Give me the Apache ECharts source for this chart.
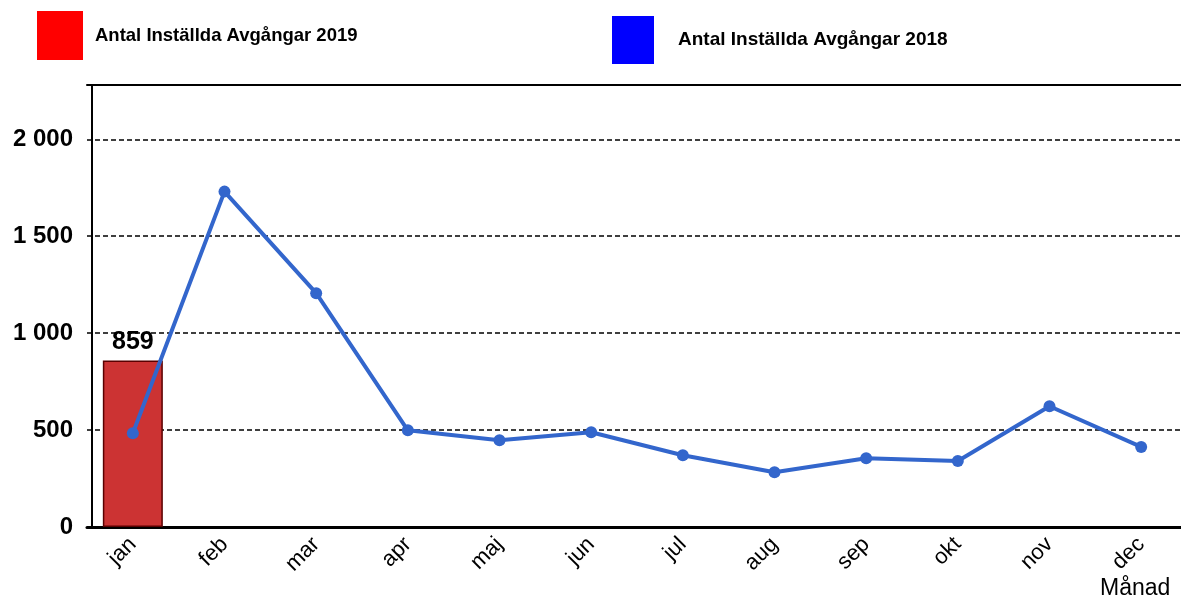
<!DOCTYPE html>
<html>
<head>
<meta charset="utf-8">
<script src="https://cdn.jsdelivr.net/npm/echarts@6/dist/echarts.min.js"></script>
<style>
  html, body { margin: 0; padding: 0; background: #fff; }
  #main { width: 1181px; height: 603px; }
</style>
</head>
<body>
<div id="main"></div>
<script>
var months = ['jan', 'feb', 'mar', 'apr', 'maj', 'jun', 'jul', 'aug', 'sep', 'okt', 'nov', 'dec'];
var values2019 = [859];
var values2018 = [484, 1730, 1206, 499, 448, 489, 370, 282, 355, 340, 623, 413];
var name2019 = 'Antal Inställda Avgångar 2019';
var name2018 = 'Antal Inställda Avgångar 2018';

var FONT = '"Liberation Sans", Arial, sans-serif';

var myChart = echarts.init(document.getElementById('main'));
var option = {
    animation: false,
    backgroundColor: '#fff',
    title: {
        text: 'Månad',
        left: 1100,
        top: 577,
        padding: 0,
        textStyle: { fontFamily: FONT, fontSize: 23, fontWeight: 'normal', color: '#000' }
    },
    legend: [{
        left: 37,
        top: 11,
        padding: 0,
        itemWidth: 46,
        itemHeight: 49,
        selectedMode: false,
        data: [{ name: name2019, icon: 'rect', itemStyle: { color: '#ff0000', borderWidth: 0 } }],
        textStyle: { fontFamily: FONT, fontSize: 18.5, fontWeight: 'bold', color: '#000', padding: [0, 0, 0, 7] }
    }, {
        left: 612,
        top: 16,
        padding: 0,
        itemWidth: 42,
        itemHeight: 48,
        selectedMode: false,
        data: [{ name: name2018, icon: 'rect', itemStyle: { color: '#0000ff', borderWidth: 0 } }],
        textStyle: { fontFamily: FONT, fontSize: 19, fontWeight: 'bold', color: '#000', padding: [0, 0, 0, 19] }
    }],
    grid: {
        left: 87,
        top: 85,
        right: -6,
        bottom: 76,
        outerBoundsMode: 'none',
        containLabel: false
    },
    xAxis: [{
        type: 'category',
        data: months,
        axisLine: { lineStyle: { color: '#000', width: 3 } },
        axisTick: { show: false },
        axisLabel: {
            rotate: 45,
            margin: 14,
            fontFamily: FONT,
            fontSize: 22,
            color: '#000'
        }
    }, {
        type: 'category',
        position: 'top',
        data: months,
        axisLine: { lineStyle: { color: '#000', width: 2 } },
        axisTick: { show: false },
        axisLabel: { show: false }
    }],
    yAxis: {
        type: 'value',
        min: 0,
        max: 2280,
        interval: 500,
        offset: -5,
        axisLine: { show: true, lineStyle: { color: '#000', width: 2 } },
        axisTick: { show: false },
        axisLabel: {
            margin: 19,
            showMaxLabel: false,
            fontFamily: FONT,
            fontSize: 24,
            fontWeight: 'bold',
            color: '#000',
            formatter: function (v) {
                if (v % 500 !== 0) return '';
                return String(v).replace(/\B(?=(\d{3})+(?!\d))/g, ' ');
            }
        },
        splitLine: { lineStyle: { color: '#000', width: 1.5, type: [5, 3] } }
    },
    series: [{
        name: name2019,
        type: 'bar',
        barWidth: 60,
        data: values2019,
        itemStyle: { color: '#cc3333', borderColor: '#5a0000', borderWidth: 1.5 },
        label: {
            show: true,
            position: 'top',
            distance: 6,
            fontFamily: FONT,
            fontSize: 25,
            fontWeight: 'bold',
            color: '#000'
        }
    }, {
        name: name2018,
        type: 'line',
        data: values2018,
        symbol: 'circle',
        symbolSize: 12,
        lineStyle: { color: '#3366cc', width: 4 },
        itemStyle: { color: '#3366cc' }
    }]
};
myChart.setOption(option);
</script>
</body>
</html>
